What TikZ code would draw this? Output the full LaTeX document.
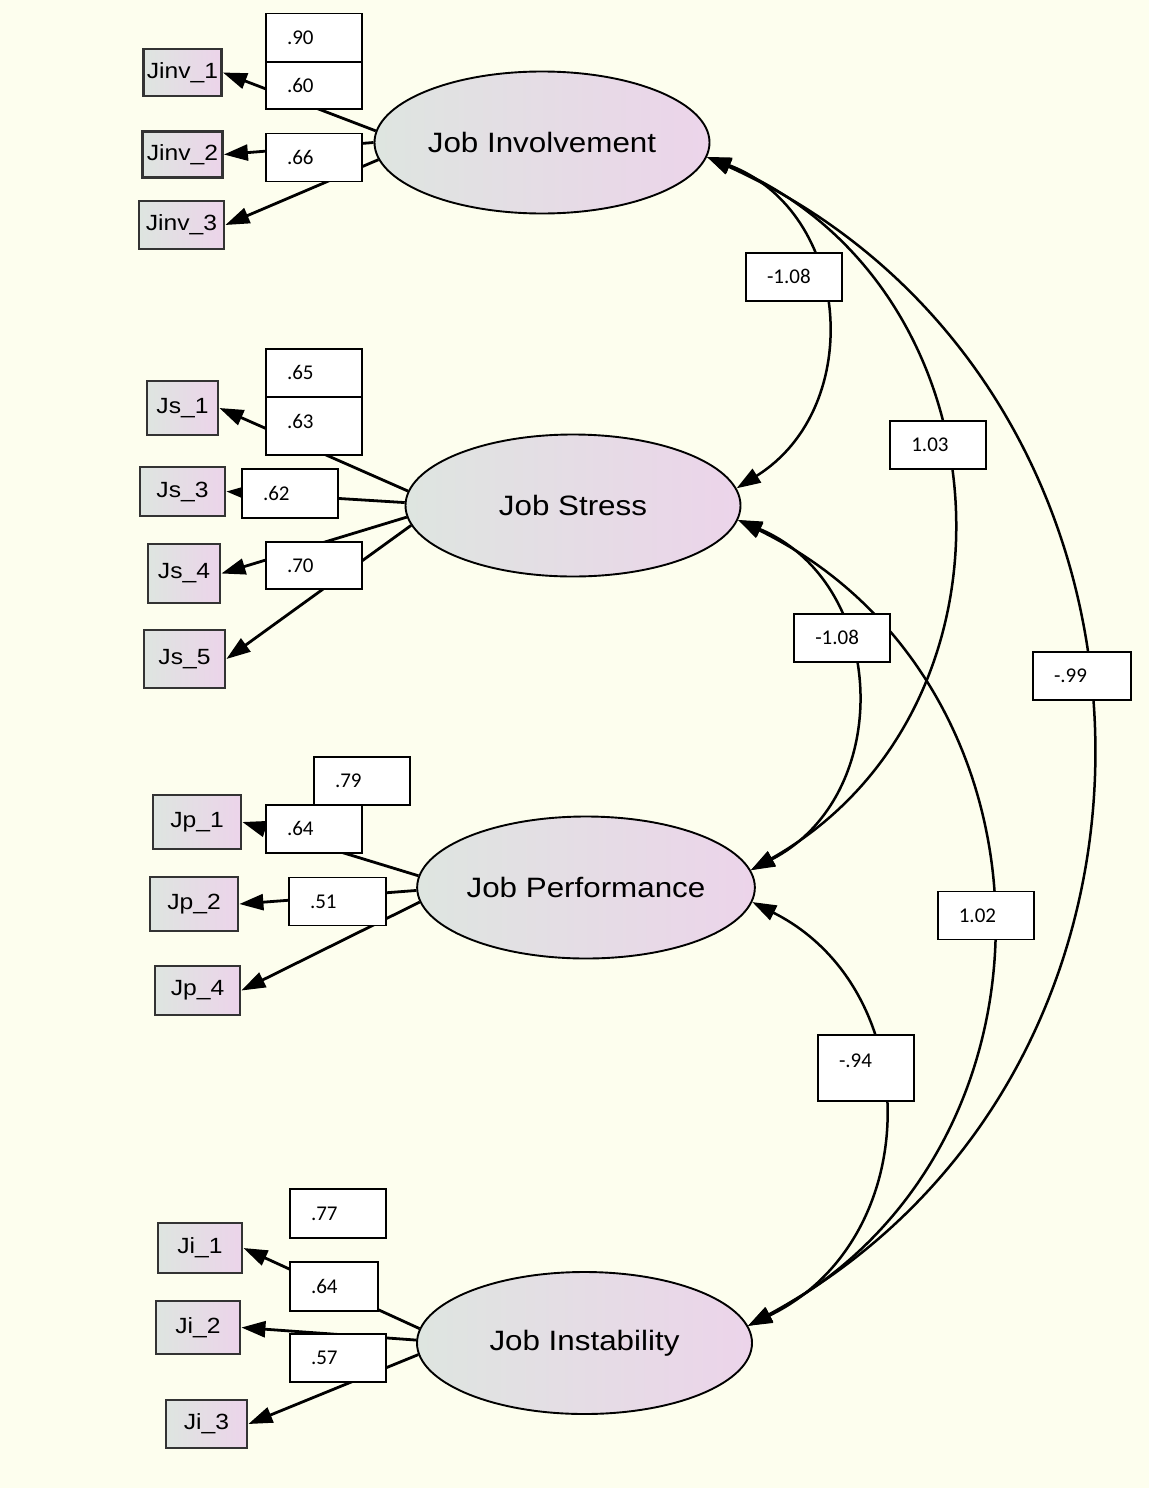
\documentclass[tikz,border=0pt]{standalone}
\usepackage{fontspec}
\setmainfont{Liberation Sans}
\newfontfamily\widefont[FakeStretch=1.12]{Liberation Sans}
\newfontfamily\lblfont{Carlito}
\usetikzlibrary{arrows.meta,shapes.geometric}
\definecolor{bg}{RGB}{253,254,238}
\definecolor{shadeL}{RGB}{222,229,224}
\definecolor{shadeR}{RGB}{236,212,234}
\begin{document}
\begin{tikzpicture}[x=1pt,y=-1pt,
 latent/.style={ellipse, draw=black, line width=1.9pt, left color=shadeL, right color=shadeR,
   minimum width=335pt, minimum height=142pt, inner sep=0pt, font=\widefont\fontsize{28}{34}\selectfont},
 ind/.style={rectangle, draw=black!80, line width=2.8pt, left color=shadeL, right color=shadeR,
   inner sep=0pt, font=\widefont\fontsize{22}{27}\selectfont},
 lbl/.style={rectangle, draw=black, line width=1.8pt, fill=white, minimum width=96pt, minimum height=48pt,
   inner xsep=21pt, inner ysep=0pt, text width=54pt, align=left, text height=13.5pt, text depth=0pt,
   font=\lblfont\fontsize{21}{25}\selectfont},
 load/.style={line width=2.8pt, -{Triangle[length=24pt,width=16pt]}},
 cov/.style={line width=2.5pt, {Triangle[length=24pt,width=16pt]}-{Triangle[length=24pt,width=16pt]}}]

\path[fill=bg] (0,0) rectangle (1149,1488);
\useasboundingbox (0,0) rectangle (1149,1488);

% latent variables
\node[latent] (JI) at (542,142.5) {Job Involvement};
\node[latent] (JS) at (573,505.5) {Job Stress};
\node[latent] (JP) at (586,887.5) {Job Performance};
\node[latent] (JN) at (584.5,1343) {Job Instability};

% indicators
\node[ind, minimum width=78pt, minimum height=47pt] (Jinv1) at (182.5,72.5) {Jinv\_1};
\node[ind, minimum width=80pt, minimum height=46pt] (Jinv2) at (182.5,154.5) {Jinv\_2};
\node[ind, minimum width=85pt, minimum height=48pt] (Jinv3) at (181.5,225) {Jinv\_3};
\node[ind, minimum width=71pt, minimum height=54pt] (Js1) at (182.5,408) {Js\_1};
\node[ind, minimum width=85pt, minimum height=49pt] (Js3) at (182.5,491.5) {Js\_3};
\node[ind, minimum width=72pt, minimum height=59pt] (Js4) at (184,573.5) {Js\_4};
\node[ind, minimum width=81pt, minimum height=58pt] (Js5) at (184.5,659) {Js\_5};
\node[ind, minimum width=88pt, minimum height=54pt] (Jp1) at (197,822) {Jp\_1};
\node[ind, minimum width=88pt, minimum height=54pt] (Jp2) at (194,904) {Jp\_2};
\node[ind, minimum width=85pt, minimum height=49pt] (Jp4) at (197.5,990.5) {Jp\_4};
\node[ind, minimum width=84pt, minimum height=50pt] (Ji1) at (200,1248) {Ji\_1};
\node[ind, minimum width=84pt, minimum height=53pt] (Ji2) at (198,1327.5) {Ji\_2};
\node[ind, minimum width=81pt, minimum height=48pt] (Ji3) at (206.5,1424) {Ji\_3};

% loadings
\draw[load] (JI.176) -- (Jinv1.east);
\draw[load] (JI.180) -- (Jinv2.east);
\draw[load] (JI.186) -- (Jinv3.east);
\draw[load] (JS.175) -- (Js1.east);
\draw[load] (JS.179) -- (Js3.east);
\draw[load] (JS.184) -- (Js4.east);
\draw[load] (JS.187) -- (Js5.east);
\draw[load] (JP.176) -- (Jp1.east);
\draw[load] (JP.181) -- (Jp2.east);
\draw[load] (JP.185) -- (Jp4.east);
\draw[load] (JN.175) -- (Ji1.east);
\draw[load] (JN.179) -- (Ji2.east);
\draw[load] (JN.184) -- (Ji3.east);

% covariances
\draw[cov] (JI.355) .. controls (851,211) and (867,407) .. (JS.6);
\draw[cov] (JI.355) .. controls (1011,284) and (1037,708) .. (JP.6);
\draw[cov] (JI.355) .. controls (1198,379) and (1223,1067) .. (JN.6);
\draw[cov] (JS.355) .. controls (888,583) and (896,795) .. (JP.6);
\draw[cov] (JS.355) .. controls (1069,682) and (1077,1153) .. (JN.6);
\draw[cov] (JP.355) .. controls (927,990) and (926,1240) .. (JN.6);

% labels
\node[lbl] (l90) at (314,37.5) {.90};
\node[lbl, minimum height=47pt] (l60) at (314,85.5) {.60};
\node[lbl] (l66) at (314,157.5) {.66};
\node[lbl] (l65) at (314,373) {.65};
\node[lbl, minimum height=58pt, text depth=9pt] (l63) at (314,426) {.63};
\node[lbl, minimum height=49pt] (l62) at (290,493.5) {.62};
\node[lbl, minimum height=47pt] (l70) at (314,565.5) {.70};
\node[lbl] (l79) at (362,781) {.79};
\node[lbl] (l64p) at (314,829) {.64};
\node[lbl, minimum width=97pt, text width=55pt] (l51) at (337.5,901.4) {.51};
\node[lbl, minimum height=49pt] (l77) at (338,1213.5) {.77};
\node[lbl, minimum width=88pt, text width=46pt, minimum height=49pt] (l64i) at (334,1286.5) {.64};
\node[lbl] (l57) at (338,1358) {.57};
\node[lbl] (c1) at (794,277) {-1.08};
\node[lbl] (c2) at (938.3,445) {1.03};
\node[lbl] (c3) at (842.3,637.6) {-1.08};
\node[lbl, minimum width=98pt, text width=56pt] (c4) at (1082,676) {-.99};
\node[lbl] (c5) at (985.8,915.5) {1.02};
\node[lbl, minimum height=66pt, text depth=14.6pt] (c6) at (866,1068) {-.94};
\end{tikzpicture}
\end{document}
